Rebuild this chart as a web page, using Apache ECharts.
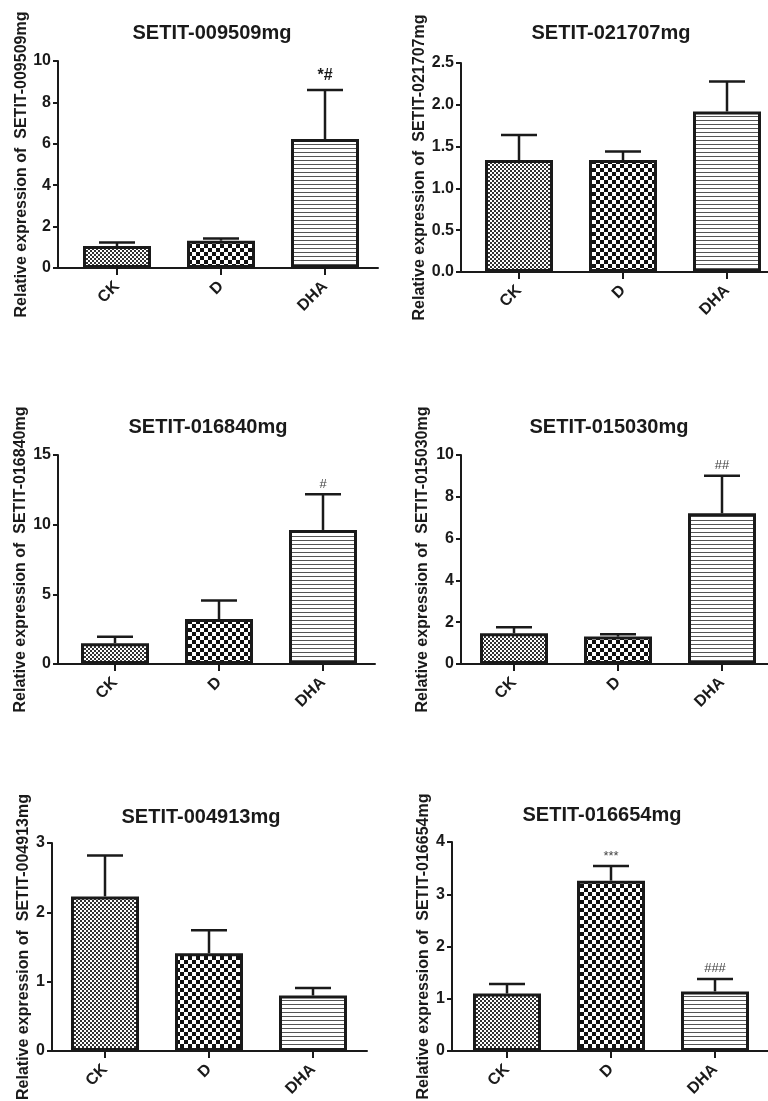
<!DOCTYPE html>
<html>
<head>
<meta charset="utf-8">
<script src="https://cdn.jsdelivr.net/npm/echarts@6/dist/echarts.min.js"></script>
<style>
html,body{margin:0;padding:0;background:#fff;}
#chart{width:768px;height:1101px;}
</style>
</head>
<body>
<div id="chart"></div>
<script>
// ---- data ----
const categories = ['CK', 'D', 'DHA'];
const titles = ['SETIT-009509mg', 'SETIT-021707mg', 'SETIT-016840mg', 'SETIT-015030mg', 'SETIT-004913mg', 'SETIT-016654mg'];

const values1 = [1.06, 1.32, 6.23];
const errors1 = [0.17, 0.11, 2.37];
const marks1 = ['', '', '*#'];

const values2 = [1.34, 1.34, 1.92];
const errors2 = [0.30, 0.10, 0.36];
const marks2 = ['', '', ''];

const values3 = [1.49, 3.23, 9.62];
const errors3 = [0.47, 1.32, 2.56];
const marks3 = ['', '', '#'];

const values4 = [1.47, 1.31, 7.21];
const errors4 = [0.29, 0.11, 1.80];
const marks4 = ['', '', '##'];

const values5 = [2.23, 1.41, 0.80];
const errors5 = [0.59, 0.33, 0.11];
const marks5 = ['', '', ''];

const values6 = [1.10, 3.26, 1.14];
const errors6 = [0.18, 0.28, 0.24];
const marks6 = ['', '***', '###'];

const yMaxes = [10, 2.5, 15, 10, 3, 4];
const yIntervals = [2, 0.5, 5, 2, 1, 1];
const yDecimals = [0, 1, 0, 0, 0, 0];

const allValues = [values1, values2, values3, values4, values5, values6];
const allErrors = [errors1, errors2, errors3, errors4, errors5, errors6];
const allMarks = [marks1, marks2, marks3, marks4, marks5, marks6];

// ---- layout (pixels) ----
const SPACING = 104;
const layout = [
  {left: 58,  top: 61,  height: 207, firstTick: 117, right: 378, nameGap: 32, tx: 207, ty: 18,  markSize: 16},
  {left: 461, top: 63,  height: 209, firstTick: 519, right: 780, nameGap: 35, tx: 606, ty: 18,  markSize: 13},
  {left: 58,  top: 455, height: 209, firstTick: 115, right: 375, nameGap: 37, tx: 203, ty: 412, markSize: 13},
  {left: 461, top: 455, height: 209, firstTick: 514, right: 780, nameGap: 38, tx: 604, ty: 412, markSize: 13},
  {left: 52,  top: 843, height: 208, firstTick: 105, right: 367, nameGap: 28, tx: 196, ty: 802, markSize: 13},
  {left: 452, top: 842, height: 209, firstTick: 507, right: 780, nameGap: 28, tx: 597, ty: 800, markSize: 13}
];

// ---- patterns ----
function makePattern(w, h, draw) {
  const c = document.createElement('canvas');
  c.width = w; c.height = h;
  const ctx = c.getContext('2d');
  ctx.fillStyle = '#fff';
  ctx.fillRect(0, 0, w, h);
  draw(ctx);
  return {image: c, repeat: 'repeat'};
}
const patFine = makePattern(4, 4, ctx => {
  ctx.fillStyle = '#333';
  ctx.fillRect(0, 0, 2, 2);
  ctx.fillRect(2, 2, 2, 2);
});
const patCoarse = makePattern(8, 8, ctx => {
  ctx.fillStyle = '#111';
  ctx.fillRect(0, 0, 4, 4);
  ctx.fillRect(4, 4, 4, 4);
});
const patLines = makePattern(4, 4, ctx => {
  ctx.fillStyle = '#555';
  ctx.fillRect(0, 0, 4, 1);
});
const patterns = [patFine, patCoarse, patLines];

const FONT = '"Liberation Sans", Arial, Helvetica, sans-serif';
const INK = '#1a1a1a';

const option = {
  backgroundColor: '#fff',
  animation: false,
  title: [],
  grid: [],
  xAxis: [],
  yAxis: [],
  series: []
};

layout.forEach((L, i) => {
  option.title.push({
    text: titles[i],
    left: L.tx, top: L.ty, textAlign: 'center',
    textStyle: {fontFamily: FONT, fontSize: 20, fontWeight: 'bold', color: INK}
  });
  option.grid.push({
    left: L.left, top: L.top, width: L.right - L.left, height: L.height,
    outerBoundsMode: 'none', containLabel: false
  });
  option.xAxis.push({
    type: 'value', gridIndex: i,
    min: (L.left - L.firstTick) / SPACING,
    max: (L.right - L.firstTick) / SPACING,
    axisLine: {show: true, onZero: false, lineStyle: {color: INK, width: 2}},
    axisTick: {show: true, customValues: [0, 1, 2], length: 7, lineStyle: {color: INK, width: 2}},
    axisLabel: {
      show: true, customValues: [0, 1, 2], rotate: 45, margin: 16,
      fontFamily: FONT, fontSize: 16, fontWeight: 'bold', color: INK,
      formatter: v => categories[Math.round(v)] || ''
    },
    splitLine: {show: false}
  });
  option.yAxis.push({
    type: 'value', gridIndex: i,
    min: 0, max: yMaxes[i], interval: yIntervals[i],
    name: 'Relative expression of  ' + titles[i],
    nameLocation: 'middle', nameGap: L.nameGap,
    nameTextStyle: {fontFamily: FONT, fontSize: 16, fontWeight: 'bold', color: INK, verticalAlign: 'middle'},
    axisLine: {show: true, onZero: false, lineStyle: {color: INK, width: 2}},
    axisTick: {show: true, length: 5, lineStyle: {color: INK, width: 2}},
    axisLabel: {
      margin: 7, fontFamily: FONT, fontSize: 16, fontWeight: 'bold', color: INK,
      formatter: v => v.toFixed(yDecimals[i])
    },
    splitLine: {show: false}
  });
  const vals = allValues[i], errs = allErrors[i], marks = allMarks[i];
  option.series.push({
    type: 'bar', xAxisIndex: i, yAxisIndex: i,
    barWidth: 68,
    data: vals.map((v, k) => ({
      value: [k, v],
      itemStyle: {color: patterns[k], borderColor: INK, borderWidth: 3}
    })),
    z: 2
  });
  option.series.push({
    type: 'custom', xAxisIndex: i, yAxisIndex: i, z: 3,
    data: vals.map((v, k) => [k, v, errs[k]]),
    renderItem: (params, api) => {
      const x = api.value(0), v = api.value(1), e = api.value(2);
      const base = api.coord([x, v]);
      const top = api.coord([x, v + e]);
      const children = [
        {type: 'line', shape: {x1: base[0], y1: base[1], x2: top[0], y2: top[1]},
         style: {stroke: INK, lineWidth: 2.5}},
        {type: 'line', shape: {x1: top[0] - 18, y1: top[1], x2: top[0] + 18, y2: top[1]},
         style: {stroke: INK, lineWidth: 2.5}}
      ];
      const m = marks[params.dataIndex];
      if (m) {
        const big = L.markSize > 14;
        children.push({
          type: 'text',
          style: {
            text: m, x: top[0], y: top[1] - (big ? 14 : 10),
            align: 'center', verticalAlign: 'middle',
            font: (big ? 'bold ' : '') + L.markSize + 'px ' + FONT,
            fill: big ? INK : '#444'
          }
        });
      }
      return {type: 'group', children};
    }
  });
});

const chart = echarts.init(document.getElementById('chart'), null, {renderer: 'canvas'});
chart.setOption(option);
</script>
</body>
</html>
